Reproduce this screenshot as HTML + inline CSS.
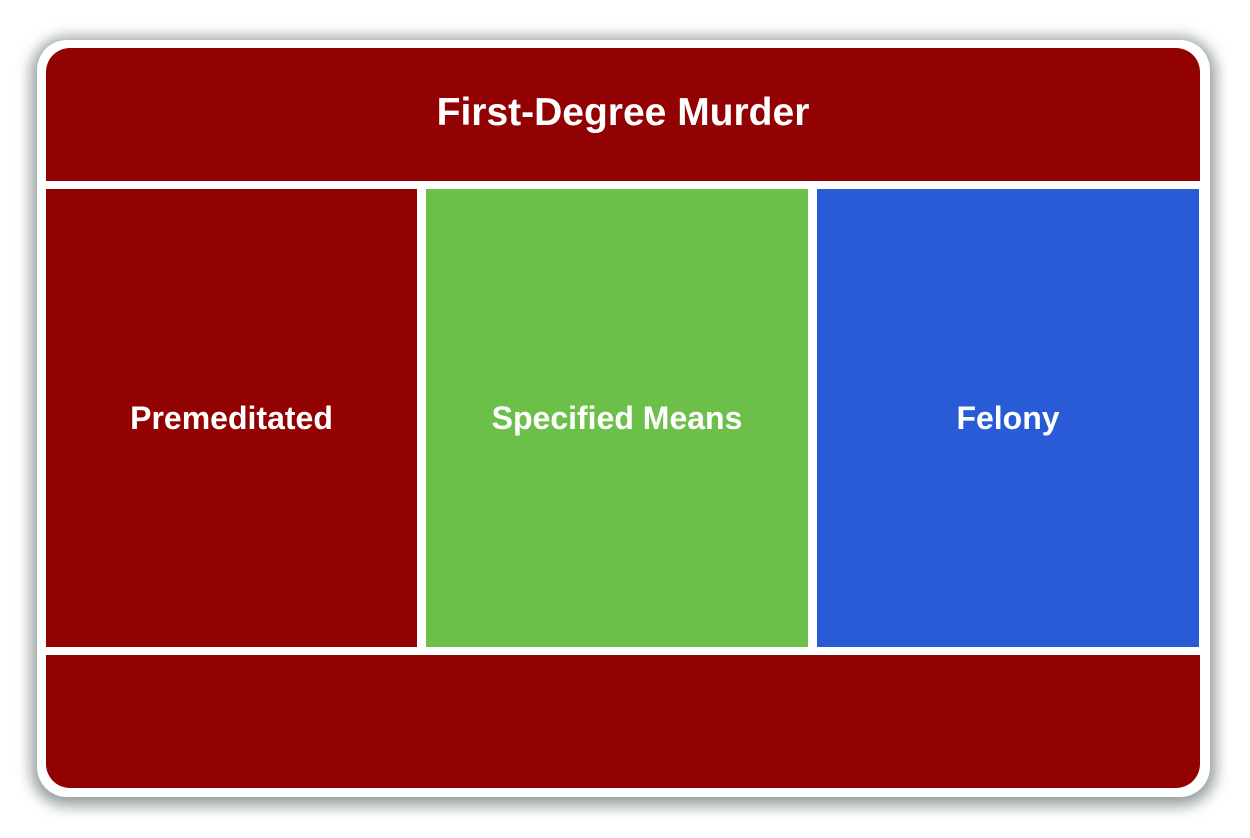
<!DOCTYPE html>
<html><head><style>
body{margin:0;width:1250px;height:838px;background:#fff;position:relative;overflow:hidden;font-family:"Liberation Sans",sans-serif}
.o{position:absolute;left:37px;top:40px;width:1173px;height:757px;background:#fff;border-radius:30px;box-shadow:0 3px 14px 6px rgba(80,95,95,.6)}
.b{position:absolute;color:#fff;font-weight:bold;display:flex;align-items:center;justify-content:center}
</style></head><body>
<div class="o"></div>
<div class="b" style="left:46px;top:48px;width:1154px;height:129px;padding-bottom:4px;background:#920203;border-radius:24px 24px 0 0;font-size:39px">First-Degree Murder</div>
<div class="b" style="left:46px;top:189px;width:371px;height:458px;background:#920203;font-size:32px">Premeditated</div>
<div class="b" style="left:426px;top:189px;width:382px;height:458px;background:#6cc04a;font-size:32px">Specified Means</div>
<div class="b" style="left:817px;top:189px;width:382px;height:458px;background:#2a5bd7;font-size:32px">Felony</div>
<div class="b" style="left:46px;top:655px;width:1154px;height:133px;background:#920203;border-radius:0 0 24px 24px"></div>
</body></html>
